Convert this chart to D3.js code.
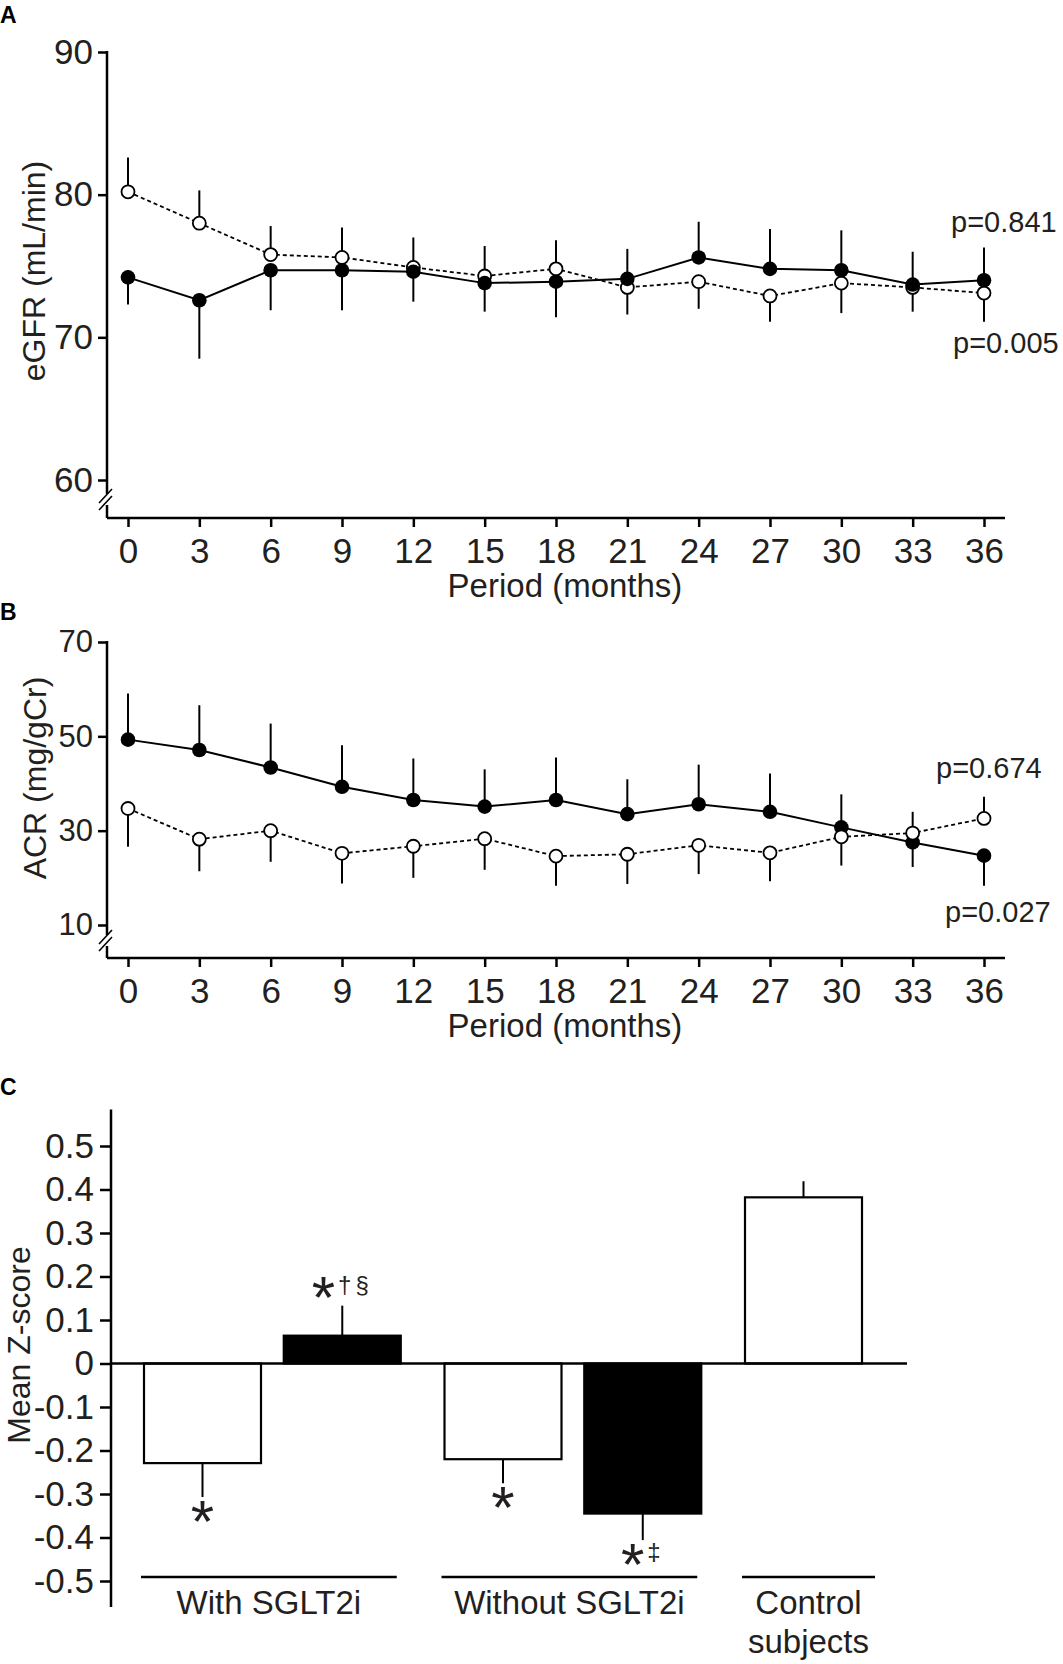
<!DOCTYPE html>
<html>
<head>
<meta charset="utf-8">
<script src="https://cdn.jsdelivr.net/npm/d3@7"></script>
<style>
  body { margin: 0; background: #fff; }
  svg { display: block; font-family: "Liberation Sans", Arial, sans-serif; }
</style>
</head>
<body>
<svg id="fig" width="1063" height="1664"></svg>
<script>
// months shared by panels A and B
var months = [0, 3, 6, 9, 12, 15, 18, 21, 24, 27, 30, 33, 36];

// panel A: eGFR (mL/min), mean and one-sided SD
var egfrFilled = [74.2, 72.6, 74.7, 74.7, 74.6, 73.8, 73.9, 74.1, 75.6, 74.8, 74.7, 73.7, 74.0];
var egfrFilledErr = [1.9, 4.1, 2.8, 2.8, 2.1, 2.0, 2.5, 2.1, 2.5, 2.8, 2.8, 2.3, 2.3];
var egfrOpen = [80.2, 78.0, 75.8, 75.6, 74.9, 74.3, 74.8, 73.5, 73.9, 72.9, 73.8, 73.5, 73.1];
var egfrOpenErr = [2.4, 2.3, 2.0, 2.1, 2.1, 2.1, 2.0, 1.9, 1.9, 1.8, 2.1, 1.7, 2.0];
var egfrTicks = [60, 70, 80, 90];
var egfrP = ["p=0.841", "p=0.005"];

// panel B: ACR (mg/gCr)
var acrFilled = [49.3, 47.1, 43.4, 39.3, 36.5, 35.1, 36.5, 33.5, 35.6, 34.0, 30.7, 27.5, 24.7];
var acrFilledErr = [9.8, 9.5, 9.3, 8.8, 8.8, 7.9, 9.0, 7.4, 8.4, 8.1, 7.0, 5.2, 6.4];
var acrOpen = [34.7, 28.2, 30.0, 25.2, 26.7, 28.3, 24.6, 25.0, 26.9, 25.3, 28.7, 29.5, 32.6];
var acrOpenErr = [8.1, 6.8, 6.6, 6.4, 6.7, 6.6, 6.3, 6.3, 6.1, 6.0, 6.1, 4.5, 4.6];
var acrTicks = [10, 30, 50, 70];
var acrP = ["p=0.674", "p=0.027"];

// panel C: mean Z-score bars
var zGroups = ["With SGLT2i", "With SGLT2i", "Without SGLT2i", "Without SGLT2i", "Control subjects"];
var zSeries = ["open", "filled", "open", "filled", "open"];
var zMeans = [-0.229, 0.064, -0.220, -0.345, 0.382];
var zErrors = [0.078, 0.069, 0.055, 0.061, 0.037];
var zMarks = ["*", "*\u2020\u00a7", "*", "*\u2021", ""];
var zTicks = [0.5, 0.4, 0.3, 0.2, 0.1, 0, -0.1, -0.2, -0.3, -0.4, -0.5];
var groupNames = ["With SGLT2i", "Without SGLT2i", "Control subjects"];
var groupLabels = [["With SGLT2i"], ["Without SGLT2i"], ["Control", "subjects"]];

var ink = "#231f20";
var svg = d3.select("#fig");

// x scale shared by the two line panels
var x = d3.scaleLinear().domain([0, 36]).range([128, 984]);

function buildLinePanel(opt, filled, filledErr, open, openErr, ticks, pTexts) {
  var g = svg.append("g");
  var y = d3.scaleLinear().domain([ticks[0], ticks[ticks.length - 1]]).range([opt.yBottom, opt.yTop]);

  // panel letter
  g.append("text")
    .attr("x", 0).attr("y", opt.letterY)
    .attr("font-size", 23).attr("font-weight", "bold").attr("fill", "#000")
    .text(opt.letter);

  // x axis
  var xa = g.append("g")
    .attr("transform", "translate(0," + opt.axisY + ")")
    .call(d3.axisBottom(x).tickValues(months).tickSize(9).tickPadding(11).tickSizeOuter(0));
  xa.select(".domain").remove();
  xa.selectAll("line").attr("stroke", "#000").attr("stroke-width", 2.5);
  xa.selectAll("text").attr("font-size", 35).attr("fill", ink)
    .attr("font-family", "Liberation Sans, Arial, sans-serif");
  g.append("line")
    .attr("x1", 107).attr("x2", 1005).attr("y1", opt.axisY).attr("y2", opt.axisY)
    .attr("stroke", "#000").attr("stroke-width", 2.5);

  g.append("text")
    .attr("x", 565).attr("y", opt.axisY + 79)
    .attr("text-anchor", "middle").attr("font-size", 33).attr("fill", ink)
    .text("Period (months)");

  // y axis with a break above the x axis
  var ya = g.append("g")
    .attr("transform", "translate(107,0)")
    .call(d3.axisLeft(y).tickValues(ticks).tickSize(9).tickPadding(5).tickSizeOuter(0));
  ya.select(".domain").remove();
  ya.selectAll("line").attr("stroke", "#000").attr("stroke-width", 2.5);
  ya.selectAll("text").attr("font-size", opt.yFont).attr("fill", ink)
    .attr("font-family", "Liberation Sans, Arial, sans-serif");

  g.append("line")
    .attr("x1", 107).attr("x2", 107).attr("y1", opt.yTop - 1).attr("y2", opt.breakY - 6)
    .attr("stroke", "#000").attr("stroke-width", 2.5);
  g.append("line")
    .attr("x1", 107).attr("x2", 107).attr("y1", opt.breakY + 5).attr("y2", opt.axisY)
    .attr("stroke", "#000").attr("stroke-width", 2.5);
  [-4, 3].forEach(function(dy) {
    g.append("line")
      .attr("x1", 99).attr("y1", opt.breakY + dy + 7)
      .attr("x2", 112).attr("y2", opt.breakY + dy - 7)
      .attr("stroke", "#000").attr("stroke-width", 1.6);
  });

  g.append("text")
    .attr("transform", "translate(" + opt.titleX + "," + opt.titleY + ") rotate(-90)")
    .attr("text-anchor", "middle").attr("font-size", 32).attr("fill", ink)
    .text(opt.title);

  // series data
  var fData = months.map(function(m, i) {
    return {m: m, v: filled[i], e: filledErr[i], up: filled[i] >= open[i]};
  });
  var oData = months.map(function(m, i) {
    return {m: m, v: open[i], e: openErr[i], up: open[i] > filled[i]};
  });

  var line = d3.line()
    .x(function(d) { return x(d.m); })
    .y(function(d) { return y(d.v); });

  g.append("path").datum(oData)
    .attr("d", line).attr("fill", "none")
    .attr("stroke", "#000").attr("stroke-width", 1.8).attr("stroke-dasharray", "4,3");
  g.append("path").datum(fData)
    .attr("d", line).attr("fill", "none")
    .attr("stroke", "#000").attr("stroke-width", 2);

  // one-sided error bars
  g.selectAll(".err")
      .data(fData.concat(oData))
    .enter().append("line")
      .attr("class", "err")
      .attr("x1", function(d) { return x(d.m); })
      .attr("x2", function(d) { return x(d.m); })
      .attr("y1", function(d) { return y(d.v); })
      .attr("y2", function(d) { return y(d.up ? d.v + d.e : d.v - d.e); })
      .attr("stroke", "#000").attr("stroke-width", 2);

  function drawFilled() {
    g.selectAll(".dotF")
        .data(fData)
      .enter().append("circle")
        .attr("class", "dotF")
        .attr("cx", function(d) { return x(d.m); })
        .attr("cy", function(d) { return y(d.v); })
        .attr("r", 7.3)
        .attr("fill", "#000");
  }
  function drawOpen() {
    g.selectAll(".dotO")
        .data(oData)
      .enter().append("circle")
        .attr("class", "dotO")
        .attr("cx", function(d) { return x(d.m); })
        .attr("cy", function(d) { return y(d.v); })
        .attr("r", 6.5)
        .attr("fill", "#fff").attr("stroke", "#000").attr("stroke-width", 1.8);
  }
  if (opt.openOnTop) { drawFilled(); drawOpen(); } else { drawOpen(); drawFilled(); }

  // p values
  g.selectAll(".pval")
      .data(pTexts)
    .enter().append("text")
      .attr("class", "pval")
      .attr("x", function(d, i) { return opt.pX[i]; })
      .attr("y", function(d, i) { return opt.pY[i]; })
      .attr("font-size", 29).attr("fill", ink)
      .text(function(d) { return d; });
}

buildLinePanel({letter: "A", letterY: 23, yTop: 52, yBottom: 480, axisY: 518, breakY: 500,
    yFont: 35, title: "eGFR (mL/min)", titleX: 45, titleY: 271, openOnTop: false,
    pX: [951, 953], pY: [232, 353]},
  egfrFilled, egfrFilledErr, egfrOpen, egfrOpenErr, egfrTicks, egfrP);

buildLinePanel({letter: "B", letterY: 620, yTop: 642, yBottom: 925, axisY: 958, breakY: 941,
    yFont: 31, title: "ACR (mg/gCr)", titleX: 46, titleY: 778, openOnTop: true,
    pX: [936, 945], pY: [778, 922]},
  acrFilled, acrFilledErr, acrOpen, acrOpenErr, acrTicks, acrP);

// ---- panel C ----
var gc = svg.append("g");
var yz = d3.scaleLinear().domain([-0.5, 0.5]).range([1581, 1146]);
// bar slots: one step per bar plus a small gap between groups
var xz = d3.scaleLinear().domain([0, 4.3]).range([202.5, 803.5]);
var barW = 117;
function slot(d) { return d.i + 0.15 * groupNames.indexOf(d.group); }

gc.append("text")
  .attr("x", 0).attr("y", 1095)
  .attr("font-size", 23).attr("font-weight", "bold").attr("fill", "#000")
  .text("C");

var fmt = function(d) { return d === 0 ? "0" : d3.format(".1f")(d).replace("\u2212", "-"); };
var za = gc.append("g")
  .attr("transform", "translate(111,0)")
  .call(d3.axisLeft(yz).tickValues(zTicks).tickFormat(fmt).tickSize(11).tickPadding(6).tickSizeOuter(0));
za.select(".domain").remove();
za.selectAll("line").attr("stroke", "#000").attr("stroke-width", 2.5);
za.selectAll("text").attr("font-size", 35).attr("fill", ink)
  .attr("font-family", "Liberation Sans, Arial, sans-serif");
gc.append("line")
  .attr("x1", 111).attr("x2", 111).attr("y1", yz(0.584)).attr("y2", yz(-0.56))
  .attr("stroke", "#000").attr("stroke-width", 2.5);

gc.append("text")
  .attr("transform", "translate(30,1345) rotate(-90)")
  .attr("text-anchor", "middle").attr("font-size", 32).attr("fill", ink)
  .text("Mean Z-score");

var zData = zMeans.map(function(v, i) {
  return {i: i, v: v, e: zErrors[i], s: zSeries[i], mark: zMarks[i], group: zGroups[i]};
});

// error bars first so the bar outline sits on top
gc.selectAll(".zerr")
    .data(zData)
  .enter().append("line")
    .attr("class", "zerr")
    .attr("x1", function(d) { return xz(slot(d)); })
    .attr("x2", function(d) { return xz(slot(d)); })
    .attr("y1", function(d) { return yz(d.v); })
    .attr("y2", function(d) { return yz(d.v < 0 ? d.v - d.e : d.v + d.e); })
    .attr("stroke", "#000").attr("stroke-width", 2);

gc.selectAll(".zbar")
    .data(zData)
  .enter().append("rect")
    .attr("class", "zbar")
    .attr("x", function(d) { return xz(slot(d)) - barW / 2; })
    .attr("y", function(d) { return Math.min(yz(d.v), yz(0)); })
    .attr("width", barW)
    .attr("height", function(d) { return Math.abs(yz(d.v) - yz(0)); })
    .attr("fill", function(d) { return d.s === "filled" ? "#000" : "#fff"; })
    .attr("stroke", "#000").attr("stroke-width", 2.2);

// zero line
gc.append("line")
  .attr("x1", 111).attr("x2", 907).attr("y1", yz(0)).attr("y2", yz(0))
  .attr("stroke", "#000").attr("stroke-width", 2.5);

// significance marks
var marks = gc.selectAll(".zmark")
    .data(zData.filter(function(d) { return d.mark; }))
  .enter().append("text")
    .attr("class", "zmark")
    .attr("x", function(d) { return xz(slot(d)); })
    .attr("y", function(d) {
      var end = yz(d.v < 0 ? d.v - d.e : d.v + d.e);
      return d.v < 0 ? end + 45 : end + 12;
    })
    .attr("text-anchor", "middle").attr("fill", ink);
marks.append("tspan")
  .attr("font-size", 60)
  .text(function(d) { return d.mark.charAt(0); });
marks.append("tspan")
  .attr("font-size", 24).attr("dx", 3).attr("dy", -25)
  .attr("letter-spacing", 4)
  .text(function(d) { return d.mark.slice(1); });

// group underlines and labels
groupNames.forEach(function(name, gi) {
  var sel = zData.filter(function(d) { return d.group === name; });
  var x1 = xz(slot(sel[0])) - barW / 2 - 3,
      x2 = xz(slot(sel[sel.length - 1])) + barW / 2 + (sel.length === 1 ? 13 : -4);
  gc.append("line")
    .attr("x1", x1).attr("x2", x2).attr("y1", 1577).attr("y2", 1577)
    .attr("stroke", "#000").attr("stroke-width", 2.5);
  groupLabels[gi].forEach(function(t, li) {
    gc.append("text")
      .attr("x", (x1 + x2) / 2).attr("y", 1614 + li * 39)
      .attr("text-anchor", "middle").attr("font-size", 33).attr("fill", ink)
      .text(t);
  });
});
</script>
</body>
</html>
